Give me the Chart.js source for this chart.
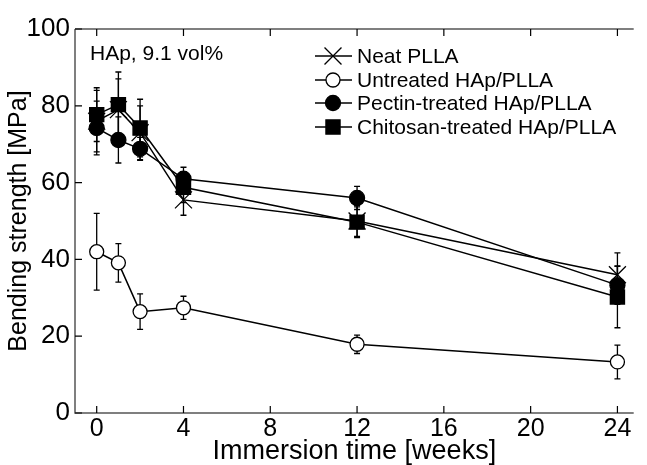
<!DOCTYPE html>
<html>
<head>
<meta charset="utf-8">
<script src="https://cdn.jsdelivr.net/npm/chart.js@4.4.0/dist/chart.umd.min.js"></script>
<style>
  html, body { margin: 0; padding: 0; background: #fff; }
  #wrap { width: 647px; height: 465px; }
</style>
</head>
<body>
<div id="wrap"><canvas id="myChart" width="647" height="465"></canvas></div>
<script>
// immersion weeks
var weeks = [0, 1, 2, 4, 12, 24];
var xTicks = [0, 4, 8, 12, 16, 20, 24];
var yTicks = [0, 20, 40, 60, 80, 100];

var neatMean = [76, 79, 73, 55.5, 50, 36];
var neatErr = [8, 8, 7, 4, 4, 5.7];
var untreatedMean = [42, 39.1, 26.4, 27.4, 17.9, 13.3];
var untreatedErr = [10, 5, 4.6, 3, 2.4, 4.4];
var pectinMean = [74.2, 71.1, 68.8, 61, 56, 33.3];
var pectinErr = [7, 6, 3, 3, 3, 5];
var chitosanMean = [77.7, 80.3, 74.2, 58.8, 49.7, 30.2];
var chitosanErr = [7, 8.5, 7.5, 4, 4, 8];

var FONT = "'Liberation Sans', Arial, sans-serif";

function pts(mean) {
  return weeks.map(function (w, i) { return {x: w, y: mean[i]}; });
}

var series = [
  {label: 'Untreated HAp/PLLA', mean: untreatedMean, err: untreatedErr, style: 'circle', r: 7, fill: '#fff'},
  {label: 'Neat PLLA', mean: neatMean, err: neatErr, style: 'crossRot', r: 12, fill: '#000'},
  {label: 'Pectin-treated HAp/PLLA', mean: pectinMean, err: pectinErr, style: 'circle', r: 7.5, fill: '#000'},
  {label: 'Chitosan-treated HAp/PLLA', mean: chitosanMean, err: chitosanErr, style: 'rect', r: 10, fill: '#000'}
];
var legendOrder = [1, 0, 2, 3];

// error bars drawn through the chart scales
var errorBars = {
  id: 'errorBars',
  beforeDatasetsDraw: function (chart) {
    var ctx = chart.ctx, xs = chart.scales.x, ys = chart.scales.y;
    ctx.save();
    ctx.strokeStyle = '#000';
    ctx.lineWidth = 1.3;
    series.forEach(function (s) {
      weeks.forEach(function (w, i) {
        var px = xs.getPixelForValue(w);
        var top = ys.getPixelForValue(s.mean[i] + s.err[i]);
        var bot = ys.getPixelForValue(s.mean[i] - s.err[i]);
        ctx.beginPath();
        ctx.moveTo(px, top); ctx.lineTo(px, bot);
        ctx.moveTo(px - 3, top); ctx.lineTo(px + 3, top);
        ctx.moveTo(px - 3, bot); ctx.lineTo(px + 3, bot);
        ctx.stroke();
      });
    });
    ctx.restore();
  }
};

// box frame with inward ticks, legend and note
var frame = {
  id: 'frame',
  afterDraw: function (chart) {
    var ctx = chart.ctx, a = chart.chartArea, xs = chart.scales.x, ys = chart.scales.y;
    ctx.save();
    ctx.strokeStyle = '#555';
    ctx.lineWidth = 1.5;
    ctx.beginPath();
    ctx.moveTo(a.left, a.top); ctx.lineTo(a.left, a.bottom); ctx.lineTo(a.right, a.bottom);
    ctx.moveTo(a.left, a.top); ctx.lineTo(a.right, a.top);
    ctx.stroke();
    ctx.strokeStyle = '#000';
    ctx.lineWidth = 1.2;
    ctx.beginPath();
    xTicks.forEach(function (t) {
      var px = xs.getPixelForValue(t);
      ctx.moveTo(px, a.bottom); ctx.lineTo(px, a.bottom - 7);
      ctx.moveTo(px, a.top); ctx.lineTo(px, a.top + 7);
    });
    yTicks.forEach(function (t) {
      var py = ys.getPixelForValue(t);
      ctx.moveTo(a.left, py); ctx.lineTo(a.left + 7, py);
    });
    ctx.stroke();

    // note
    ctx.fillStyle = '#000';
    ctx.font = '21px ' + FONT;
    ctx.textBaseline = 'middle';
    ctx.textAlign = 'left';
    ctx.fillText('HAp, 9.1 vol%', 90, 54);

    // legend
    var rowY = [56, 80, 103, 127];
    legendOrder.forEach(function (k, j) {
      var s = series[k], y = rowY[j];
      ctx.strokeStyle = '#000';
      ctx.lineWidth = 1.5;
      ctx.beginPath();
      ctx.moveTo(315, y); ctx.lineTo(352, y);
      ctx.stroke();
      ctx.lineWidth = 1.3;
      if (s.style === 'crossRot') {
        Chart.helpers.drawPoint(ctx, {pointStyle: s.style, radius: s.r, borderWidth: 1.3, rotation: 0}, 333, y);
      } else {
        ctx.fillStyle = s.fill;
        ctx.beginPath();
        if (s.style === 'circle') ctx.arc(333, y, s.r, 0, Math.PI * 2);
        else { var h = s.r * Math.SQRT1_2; ctx.rect(333 - h, y - h, 2 * h, 2 * h); }
        ctx.fill(); ctx.stroke();
      }
      ctx.fillStyle = '#000';
      ctx.fillText(s.label, 357, y + 1);
    });
    ctx.restore();
  }
};

var ctx = document.getElementById('myChart').getContext('2d');
var myChart = new Chart(ctx, {
  type: 'scatter',
  data: {
    datasets: series.map(function (s) {
      return {
        label: s.label,
        data: pts(s.mean),
        showLine: true,
        borderColor: '#000',
        backgroundColor: s.fill,
        borderWidth: 1.5,
        pointStyle: s.style,
        pointRadius: s.r,
        pointBorderWidth: 1.3,
        pointBorderColor: '#000',
        pointBackgroundColor: s.fill
      };
    })
  },
  plugins: [errorBars, frame],
  options: {
    responsive: false,
    animation: false,
    layout: { padding: { top: 29, right: 1, left: 0, bottom: 0 } },
    plugins: {
      legend: { display: false },
      tooltip: { enabled: false }
    },
    scales: {
      x: {
        type: 'linear',
        min: -1,
        max: 24.75,
        afterBuildTicks: function (scale) {
          scale.ticks = xTicks.map(function (v) { return {value: v}; });
        },
        afterFit: function (scale) { scale.height = 52; },
        grid: { display: false, drawTicks: false },
        border: { display: false },
        ticks: { color: '#000', font: { size: 25, family: FONT, lineHeight: 1.1 }, padding: 2, maxRotation: 0 },
        title: { display: true, text: 'Immersion time [weeks]', color: '#000', font: { size: 27, family: FONT, lineHeight: 1 }, padding: { top: 0, bottom: 0 } }
      },
      y: {
        min: 0,
        max: 100,
        afterBuildTicks: function (scale) {
          scale.ticks = yTicks.map(function (v) { return {value: v}; });
        },
        afterFit: function (scale) { scale.width = 75; },
        grid: { display: false, drawTicks: false },
        border: { display: false },
        ticks: { color: '#000', font: { size: 26, family: FONT }, padding: 5 },
        title: { display: true, text: 'Bending strength [MPa]', color: '#000', font: { size: 25, family: FONT, lineHeight: 1 }, padding: { top: 7, bottom: 0 } }
      }
    }
  }
});
</script>
</body>
</html>
